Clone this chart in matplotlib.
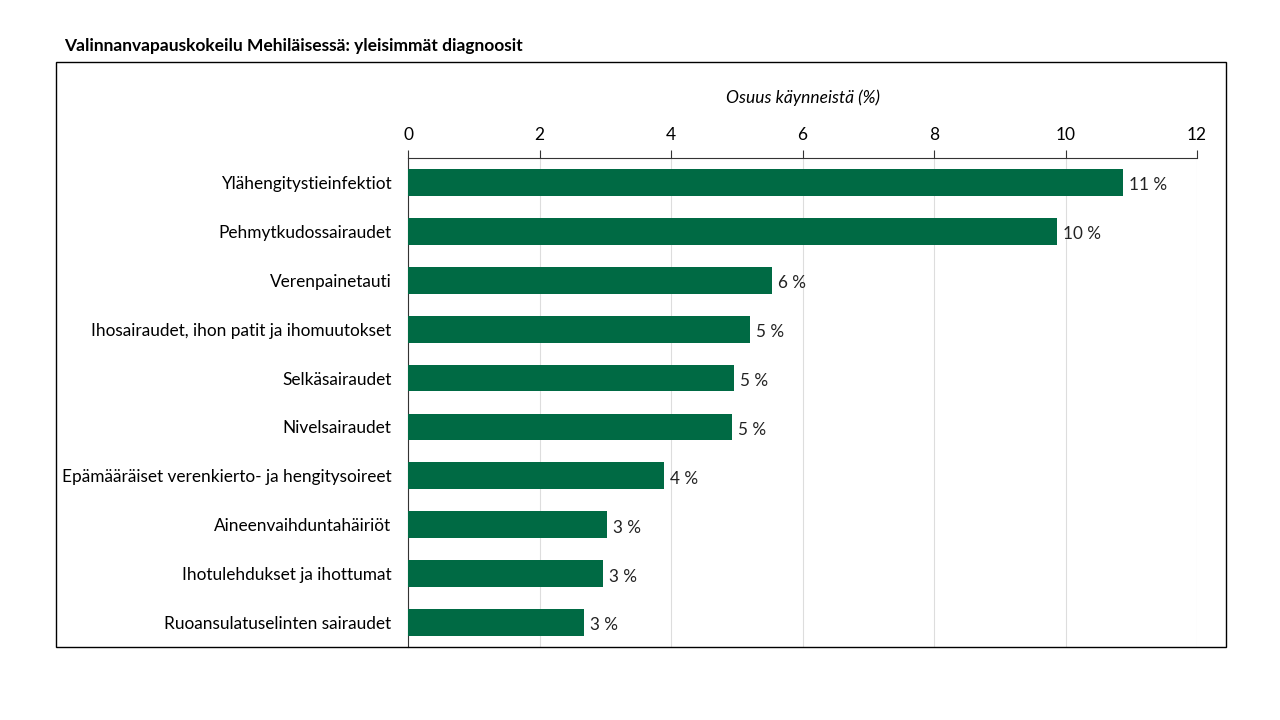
import matplotlib.pyplot as plt
from matplotlib.patches import Rectangle

plt.rcParams['font.family'] = ['Lato', 'DejaVu Sans']

categories = ['Ylähengitystieinfektiot', 'Pehmytkudossairaudet', 'Verenpainetauti',
              'Ihosairaudet, ihon patit ja ihomuutokset', 'Selkäsairaudet',
              'Nivelsairaudet', 'Epämääräiset verenkierto- ja hengitysoireet',
              'Aineenvaihduntahäiriöt', 'Ihotulehdukset ja ihottumat',
              'Ruoansulatuselinten sairaudet']
values = [10.87, 9.87, 5.54, 5.20, 4.96, 4.93, 3.89, 3.03, 2.97, 2.68]
labels = ['11 %', '10 %', '6 %', '5 %', '5 %', '5 %', '4 %', '3 %', '3 %', '3 %']
ticks = [0, 2, 4, 6, 8, 10, 12]

green = '#006A44'

fig = plt.figure(figsize=(12.8, 7.2), dpi=100)
fig.patches.append(Rectangle((56 / 1280, 1 - 647 / 720), 1170 / 1280, 585 / 720,
                             transform=fig.transFigure, fill=False,
                             edgecolor='black', linewidth=1.0, zorder=0))
fig.text(64 / 1280, 1 - 46 / 720, 'Valinnanvapauskokeilu Mehiläisessä: yleisimmät diagnoosit',
         fontsize=12.5, fontweight='bold', va='center', ha='left')

ax = fig.add_axes([408 / 1280, 1 - 647 / 720, 789 / 1280, 489 / 720])
y = list(range(len(categories)))
ax.barh(y, values, height=0.55, color=green, zorder=3)
for yi, v, lab in zip(y, values, labels):
    ax.text(v + 0.09, yi + 0.06, lab, va='center', ha='left', fontsize=12.3, color='#222222')

ax.set_ylim(len(categories) - 0.5, -0.5)
ax.set_xlim(0, 12)
ax.set_yticks(y)
ax.set_yticklabels(categories, fontsize=12.4)
ax.tick_params(axis='y', length=0, pad=12)
ax.xaxis.tick_top()
ax.xaxis.set_label_position('top')
ax.set_xticks(ticks)
ax.set_xticklabels([str(t) for t in ticks], fontsize=12.5)
ax.tick_params(axis='x', length=6, width=0.8, color='#333333', pad=5)
ax.set_xlabel('Osuus käynneistä (%)', fontsize=12.5, style='italic', labelpad=17)
ax.grid(axis='x', color='#dddddd', linewidth=0.8, zorder=0)
ax.set_axisbelow(True)
for s in ['right', 'bottom']:
    ax.spines[s].set_visible(False)
ax.spines['top'].set_color('#333333')
ax.spines['left'].set_color('#333333')

fig.savefig('out.png', dpi=100)
